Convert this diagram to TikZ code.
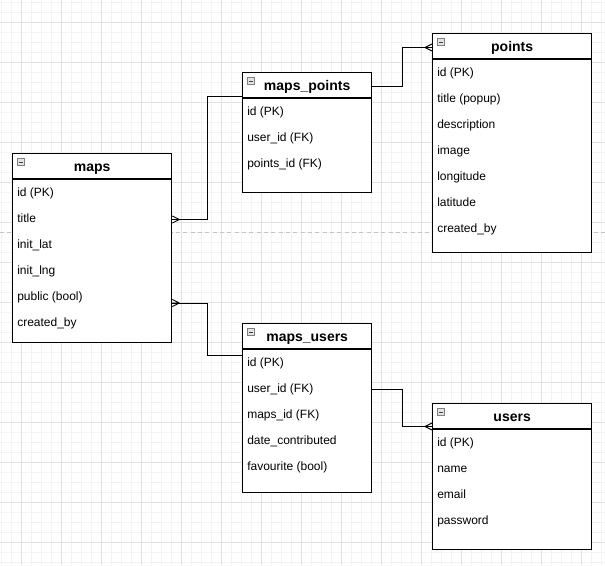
\documentclass[tikz,border=0pt]{standalone}
\usepackage{fontspec}
\setmainfont{Liberation Sans}
\usetikzlibrary{calc}
\definecolor{gridminor}{HTML}{F3F3F3}
\definecolor{gridmajor}{HTML}{E2E2E2}
\definecolor{pagebreak}{HTML}{C4C4C4}
\definecolor{iconfill}{HTML}{E4E4E4}
\definecolor{iconline}{HTML}{808080}
\tikzset{
  tbl/.style 2 args={draw, fill=white, line width=1pt, anchor=north west, inner sep=0pt,
    minimum width=#1*0.75pt, minimum height=#2*0.75pt},
  tbltitle/.style={font=\bfseries\fontsize{10.5}{12}\selectfont, inner sep=0pt,
    text height=7.6pt, text depth=2.2pt},
  rowtext/.style={font=\fontsize{9}{11}\selectfont, anchor=west, inner sep=0pt,
    text height=6.5pt, text depth=1.9pt},
  minusicon/.style={draw=iconline, fill=iconfill, line width=0.5pt, minimum size=5.4pt, inner sep=0pt,
    path picture={\draw[line width=0.6pt, black!75] ([xshift=1.1pt]path picture bounding box.west)
      -- ([xshift=-1.1pt]path picture bounding box.east);}},
  headline/.style={line width=1pt},
  rel/.style={line width=0.7pt},
  crow/.pic={\draw[rel] (7,0) -- (0,-3.5) (7,0) -- (0,0) (7,0) -- (0,3.5);}
}
\begin{document}
\begin{tikzpicture}[x=0.75pt, y=-0.75pt]
\useasboundingbox (0,0) rectangle (605,565);
\foreach \gx in {1,11,...,601} \draw[gridminor, line width=0.75pt] (\gx,0) -- (\gx,565);
\foreach \gy in {2,12,...,562} \draw[gridminor, line width=0.75pt] (0,\gy) -- (605,\gy);
\foreach \gx in {21,61,...,581} \draw[gridmajor, line width=0.75pt] (\gx,0) -- (\gx,565);
\foreach \gy in {22,62,...,542} \draw[gridmajor, line width=0.75pt] (0,\gy) -- (605,\gy);
\draw[pagebreak, line width=0.75pt, dash pattern=on 3pt off 2.5pt] (0,232) -- (605,232);

% maps
\node[tbl={159}{189}] (maps) at (12,153) {};
\draw[headline] ($(maps.north west)+(0,26)$) -- ($(maps.north east)+(0,26)$);
\node[minusicon] at ($(maps.north west)+(9,9)$) {};
\node[tbltitle] (maps-h) at ($(maps.north)+(0,14.5)$) {maps};
\foreach \t [count=\i] in {id (PK), title, init\_lat, init\_lng, public (bool), created\_by}
  \node[rowtext] (maps-\i) at ($(maps.north west)+(5,14.5+26*\i)$) {\t};

% maps_points
\node[tbl={129}{120}] (mpts) at (242,72) {};
\draw[headline] ($(mpts.north west)+(0,26)$) -- ($(mpts.north east)+(0,26)$);
\node[minusicon] at ($(mpts.north west)+(9,9)$) {};
\node[tbltitle] (mpts-h) at ($(mpts.north)+(0,14.5)$) {maps\_points};
\foreach \t [count=\i] in {id (PK), user\_id (FK), points\_id (FK)}
  \node[rowtext] (mpts-\i) at ($(mpts.north west)+(5,14.5+26*\i)$) {\t};

% points
\node[tbl={159}{219}] (pts) at (432,33) {};
\draw[headline] ($(pts.north west)+(0,26)$) -- ($(pts.north east)+(0,26)$);
\node[minusicon] at ($(pts.north west)+(9,9)$) {};
\node[tbltitle] (pts-h) at ($(pts.north)+(0,14.5)$) {points};
\foreach \t [count=\i] in {id (PK), title (popup), description, image, longitude, latitude, created\_by}
  \node[rowtext] (pts-\i) at ($(pts.north west)+(5,14.5+26*\i)$) {\t};

% maps_users
\node[tbl={129}{169}] (mus) at (242,323) {};
\draw[headline] ($(mus.north west)+(0,26)$) -- ($(mus.north east)+(0,26)$);
\node[minusicon] at ($(mus.north west)+(9,9)$) {};
\node[tbltitle] (mus-h) at ($(mus.north)+(0,14.5)$) {maps\_users};
\foreach \t [count=\i] in {id (PK), user\_id (FK), maps\_id (FK), date\_contributed, favourite (bool)}
  \node[rowtext] (mus-\i) at ($(mus.north west)+(5,14.5+26*\i)$) {\t};

% users
\node[tbl={159}{146}] (usr) at (432,403) {};
\draw[headline] ($(usr.north west)+(0,26)$) -- ($(usr.north east)+(0,26)$);
\node[minusicon] at ($(usr.north west)+(9,9)$) {};
\node[tbltitle] (usr-h) at ($(usr.north)+(0,14.5)$) {users};
\foreach \t [count=\i] in {id (PK), name, email, password}
  \node[rowtext] (usr-\i) at ($(usr.north west)+(5,14.5+26*\i)$) {\t};

% relations
\coordinate (mpts-in) at ($(mpts.north west)+(0,24)$);
\coordinate (maps-out) at ($(maps.north east)+(0,150)$);
\coordinate (mus-in) at ($(mus.north west)+(0,32)$);
\coordinate (usr-in) at ($(usr.north west)+(0,23.5)$);
\draw[rel] (maps.north east |- maps-2) -- ++(35,0) |- (mpts-in);
\draw[rel] (mpts.east |- mpts-h) -- ++(30,0) |- (pts.west |- pts-h);
\draw[rel] (maps-out) -- ++(35,0) |- (mus-in);
\draw[rel] (mus.east |- mus-2) -- ++(30,0) |- (usr-in);
\pic at (maps.east |- maps-2) {crow};
\pic at (maps-out) {crow};
\pic[rotate=180] at (pts.west |- pts-h) {crow};
\pic[rotate=180] at (usr-in) {crow};
\end{tikzpicture}
\end{document}
